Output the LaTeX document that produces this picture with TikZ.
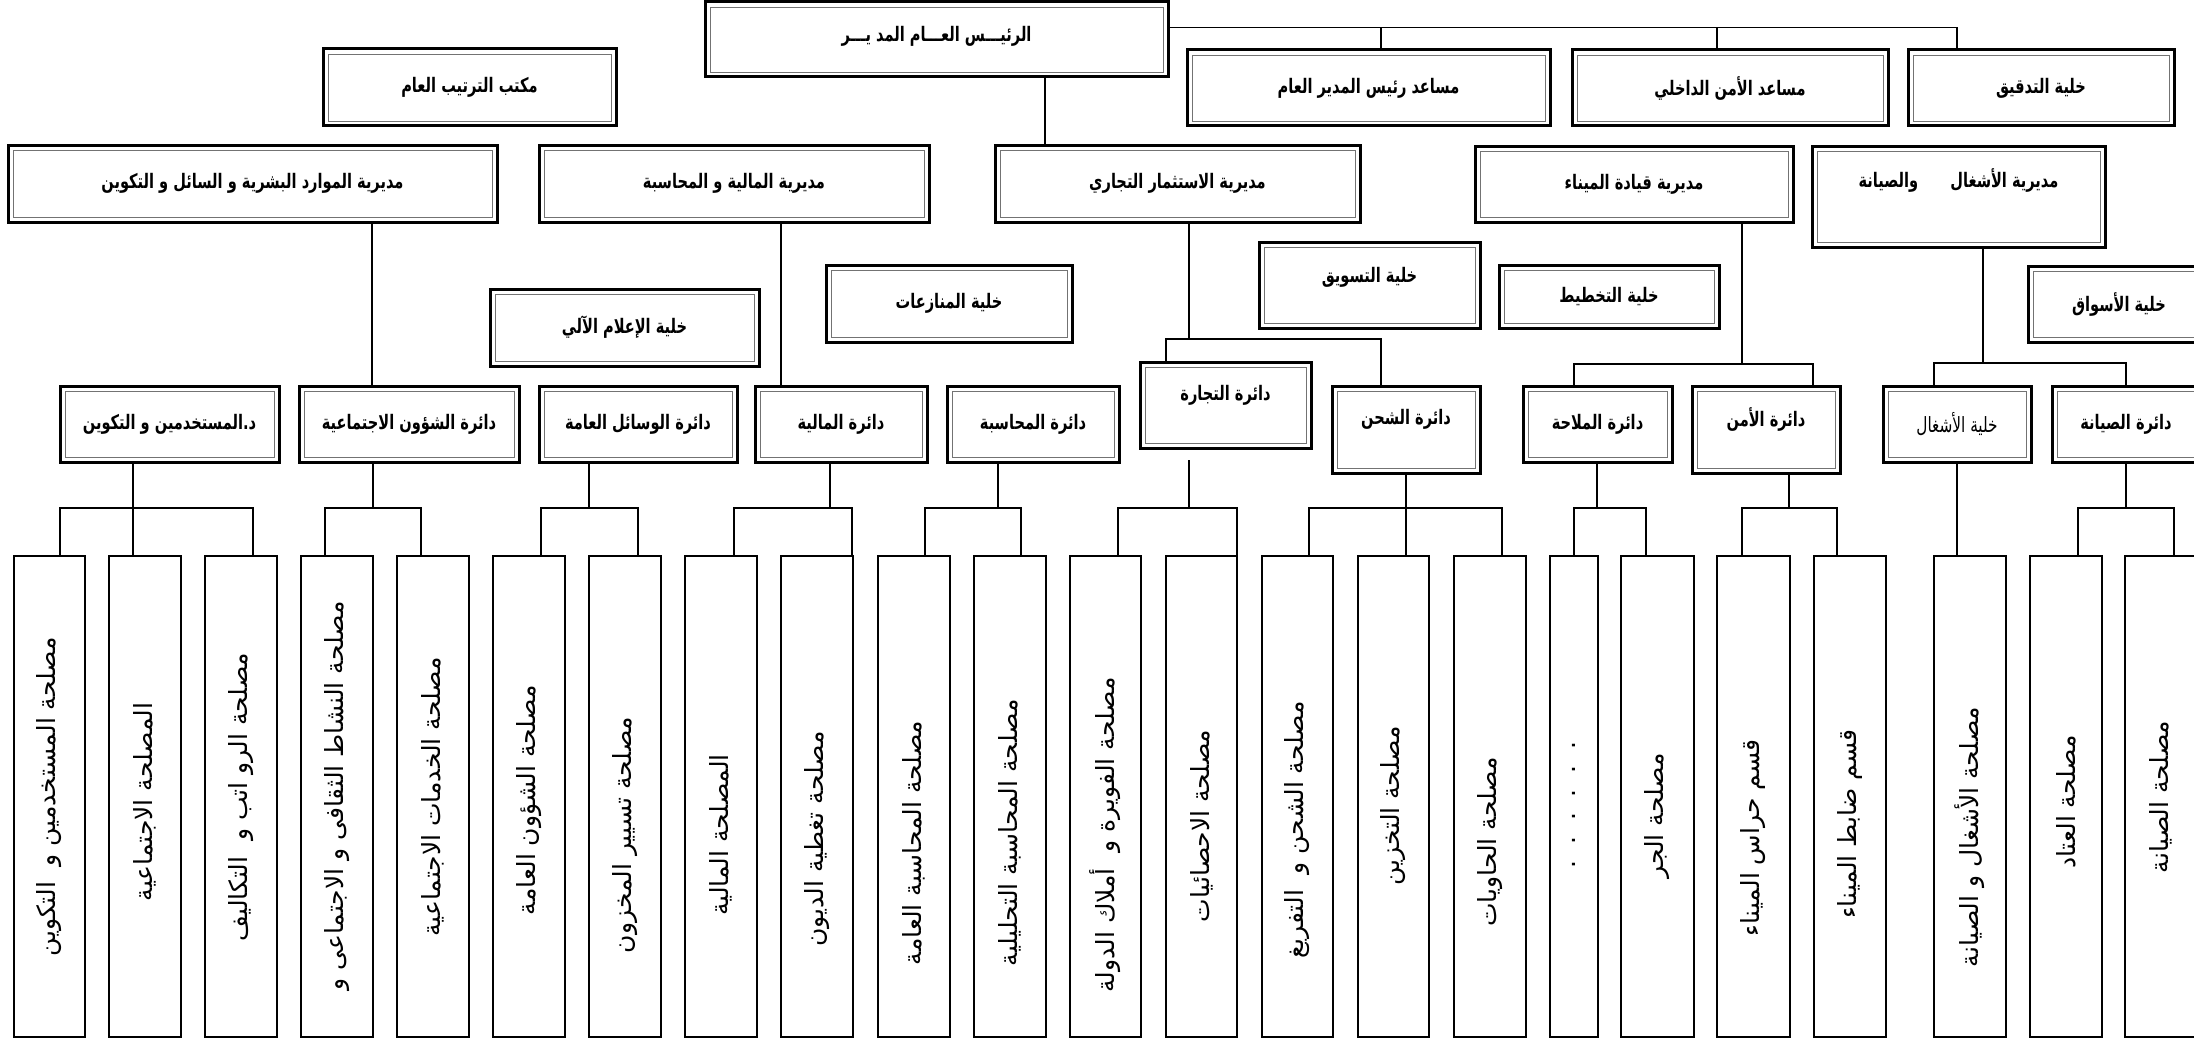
\documentclass[tikz,border=0pt]{standalone}
\usepackage{graphicx}
\usepackage{fontspec}
\newfontfamily\arb[Script=Arabic]{DejaVu Sans}
\TeXXeTstate=1
\newcommand\hfont{\arb\bfseries\fontsize{20}{23}\selectfont}
\newcommand\rfont{\arb\fontsize{21}{24}\selectfont}
\newcommand\cfont{\arb\fontsize{25}{29}\selectfont}

\tikzset{
  hdr/.style={draw, line width=3pt, fill=white, inner sep=0pt, outer sep=0pt},
  hdrin/.style={draw=black!55, line width=0.9pt},
  lbl/.style={inner sep=0pt, font=\hfont},
  lblr/.style={inner sep=0pt, font=\rfont},
  colbox/.style={draw, line width=1.4pt, fill=white, inner sep=0pt, outer sep=0pt},
  coltxt/.style={inner sep=0pt, rotate=90, font=\cfont},
  conn/.style={draw, line width=1.5pt},
}

% framed heading box: [label style]{name}{x1}{y1}{x2}{y2}{text shift}{text}
\newcommand\hdrbox[8][lbl]{%
  \node[hdr, minimum width={#5-#3}, minimum height={#6-#4}] (#2) at ({(#3+#5)/2},{(#4+#6)/2}) {};
  \draw[hdrin] ([shift={(5,5)}]#2.north west) rectangle ([shift={(-5,-5)}]#2.south east);
  \node[#1, yshift=#7] (#2-t) at (#2.center) {\scalebox{0.73}[1]{#8}};
}
% tall service column: {name}{x1}{x2}{text centre y}{text}
\newcommand\colbox[5]{%
  \node[colbox, minimum width={#3-#2}, minimum height=481] (#1) at ({(#2+#3)/2},796.5) {};
  \node[coltxt] (#1-t) at ({(#2+#3)/2},#4) {#5};
}
% department with two services under it
\newcommand\twogrp[6]{%
  \coordinate (#1-j) at (#2,508);
  \coordinate (#1-l) at (#3,508);
  \coordinate (#1-r) at (#4,508);
  \draw[conn] (#1-j |- #1.south) -- (#1-j);
  \draw[conn] (#5.north -| #1-l) -- (#1-l) -- (#1-r) -- (#1-r |- #6.north);
}

\begin{document}
\begin{tikzpicture}[x=1pt, y=-1pt]
\useasboundingbox (0,0) rectangle (2194,1038);
\clip (0,0) rectangle (2194,1038);
\fill[white] (0,0) rectangle (2194,1038);

% ---- top level
\hdrbox{ceo}{705}{2}{1168}{77}{3}{\beginR الرئيـــس العـــام المد يـــر\endR}
\hdrbox{tartib}{323}{49}{616}{126}{0}{\beginR مكتب الترتيب العام\endR}
\hdrbox{musaid}{1187}{50}{1550}{126}{0}{\beginR مساعد رئيس المدير العام\endR}
\hdrbox{amn}{1572}{50}{1888}{126}{0}{\beginR مساعد الأمن الداخلي\endR}
\hdrbox{tadqiq}{1908}{50}{2174}{126}{0}{\beginR خلية التدقيق\endR}

% ---- directorates
\hdrbox{hr}{8}{145}{497}{222}{0}{\beginR مديرية الموارد البشرية و السائل و التكوين\endR}
\hdrbox{fin}{539}{145}{929}{222}{0}{\beginR مديرية المالية و المحاسبة\endR}
\hdrbox{ist}{995}{145}{1360}{222}{0}{\beginR مديرية الاستثمار التجاري\endR}
\hdrbox{qiy}{1475}{146}{1793}{222}{0}{\beginR مديرية قيادة الميناء\endR}
\hdrbox{ashd}{1812}{146}{2105}{247}{16}{\beginR مديرية الأشغال\hspace{2.2em}والصيانة\endR}

% ---- cells
\hdrbox{ilam}{490}{289}{759}{366}{0}{\beginR خلية الإعلام الآلي\endR}
\hdrbox{munaz}{826}{265}{1072}{342}{0}{\beginR خلية المنازعات\endR}
\hdrbox{taswiq}{1259}{242}{1480}{328}{8}{\beginR خلية التسويق\endR}
\hdrbox{takhtit}{1499}{265}{1719}{328}{0}{\beginR خلية التخطيط\endR}
\hdrbox{aswaq}{2028}{266}{2210}{342}{0}{\beginR خلية الأسواق\endR}

% ---- departments
\hdrbox{mustakh}{60}{386}{279}{462}{0}{\beginR د.المستخدمين و التكوين\endR}
\hdrbox{shuun}{299}{386}{519}{462}{0}{\beginR دائرة الشؤون الاجتماعية\endR}
\hdrbox{wasail}{539}{386}{737}{462}{0}{\beginR دائرة الوسائل العامة\endR}
\hdrbox{maliya}{755}{386}{927}{462}{0}{\beginR دائرة المالية\endR}
\hdrbox{muhasaba}{947}{386}{1119}{462}{0}{\beginR دائرة المحاسبة\endR}
\hdrbox{tijara}{1140}{362}{1311}{448}{10}{\beginR دائرة التجارة\endR}
\hdrbox{shahn}{1332}{386}{1480}{473}{10}{\beginR دائرة الشحن\endR}
\hdrbox{milaha}{1523}{386}{1672}{462}{0}{\beginR دائرة الملاحة\endR}
\hdrbox{amnd}{1692}{386}{1840}{473}{10}{\beginR دائرة الأمن\endR}
\hdrbox[lblr]{khashghal}{1883}{386}{2031}{462}{0}{\beginR خلية الأشغال\endR}
\hdrbox{siyana}{2052}{386}{2200}{462}{0}{\beginR دائرة الصيانة\endR}

% ---- services
\colbox{s1}{14}{85}{797}{\beginR مصلحة المستخدمين و\ \ التكوين\endR}
\colbox{s2}{109}{181}{802}{\beginR المصلحة الاجتماعية\endR}
\colbox{s3}{205}{277}{797}{\beginR مصلحة الرو اتب و\ \ التكاليف\endR}
\colbox{s4}{301}{373}{796}{\beginR مصلحة النشاط الثقافى و الاجتماعى و\endR}
\colbox{s5}{397}{469}{797}{\beginR مصلحة الخدمات الاجتماعية\endR}
\colbox{s6}{493}{565}{800}{\beginR مصلحة الشؤون العامة\endR}
\colbox{s7}{589}{661}{835}{\beginR مصلحة تسيير المخزون\endR}
\colbox{s8}{685}{757}{835}{\beginR المصلحة المالية\endR}
\colbox{s9}{781}{853}{839}{\beginR مصلحة تغطية الديون\endR}
\colbox{s10}{878}{950}{843}{\beginR مصلحة المحاسبة العامة\endR}
\colbox{s11}{974}{1046}{833}{\beginR مصلحة المحاسبة التحليلية\endR}
\colbox{s12}{1070}{1141}{835}{\beginR مصلحة الفويرة و\ \ أملاك الدولة\endR}
\colbox{s13}{1166}{1237}{826}{\beginR مصلحة الاحصائيات\endR}
\colbox{s14}{1262}{1333}{830}{\beginR مصلحة الشحن و\ \ التفريغ\endR}
\colbox{s15}{1358}{1429}{806}{\beginR مصلحة التخزين\endR}
\colbox{s16}{1454}{1526}{842}{\beginR مصلحة الحاويات\endR}
\colbox{s17}{1550}{1598}{805}{.\ \ .\ \ .\ \ .\ \ .\ \ .}
\colbox{s18}{1621}{1694}{816}{\beginR مصلحة الجر\endR}
\colbox{s19}{1717}{1790}{838}{\beginR قسم حراس الميناء\endR}
\colbox{s20}{1814}{1886}{824}{\beginR قسم ضابط الميناء\endR}
\colbox{s21}{1934}{2006}{837}{\beginR مصلحة الأشغال و الصيانة\endR}
\colbox{s22}{2030}{2102}{802}{\beginR مصلحة العتاد\endR}
\colbox{s23}{2125}{2197}{797}{\beginR مصلحة الصيانة\endR}

% ---- connectors: general manager
\coordinate (bus-a) at (1381,27.7);
\coordinate (bus-b) at (1717,27.7);
\coordinate (bus-r) at (1957,27.7);
\draw[conn] (ceo.east |- bus-r) -- (bus-r) -- (bus-r |- tadqiq.north);
\draw[conn] (bus-a) -- (bus-a |- musaid.north);
\draw[conn] (bus-b) -- (bus-b |- amn.north);
\coordinate (c1) at (1045,0);
\draw[conn] (c1 |- ceo.south) -- (c1 |- ist.north);

% ---- connectors: directorates to departments
\coordinate (c2) at (372,0);
\draw[conn] (c2 |- hr.south) -- (c2 |- shuun.north);
\coordinate (c3) at (781,0);
\draw[conn] (c3 |- fin.south) -- (c3 |- maliya.north);

\coordinate (c4) at (1189,339);
\coordinate (c4l) at (1166,339);
\coordinate (c4r) at (1381,339);
\draw[conn] (c4 |- ist.south) -- (c4);
\draw[conn] (c4l |- tijara.north) -- (c4l) -- (c4r) -- (c4r |- shahn.north);

\coordinate (c5) at (1742,364);
\coordinate (c5l) at (1574,364);
\coordinate (c5r) at (1813,364);
\draw[conn] (c5 |- qiy.south) -- (c5);
\draw[conn] (c5l |- milaha.north) -- (c5l) -- (c5r) -- (c5r |- amnd.north);

\coordinate (c6) at (1983,363);
\coordinate (c6l) at (1934,363);
\coordinate (c6r) at (2126,363);
\draw[conn] (c6 |- ashd.south) -- (c6);
\draw[conn] (c6l |- khashghal.north) -- (c6l) -- (c6r) -- (c6r |- siyana.north);

% ---- connectors: departments to services
\coordinate (g1) at (133,508);
\coordinate (g1l) at (60,508);
\coordinate (g1r) at (253,508);
\draw[conn] (g1 |- mustakh.south) -- (g1 |- s2.north);
\draw[conn] (s1.north -| g1l) -- (g1l) -- (g1r) -- (g1r |- s3.north);

\twogrp{shuun}{373}{325}{421}{s4}{s5}
\twogrp{wasail}{589}{541}{638}{s6}{s7}
\twogrp{maliya}{830}{734}{852}{s8}{s9}
\twogrp{muhasaba}{998}{925}{1021}{s10}{s11}

\coordinate (g6t) at (1189,460);
\coordinate (g6) at (1189,508);
\coordinate (g6l) at (1118,508);
\coordinate (g6r) at (1237,508);
\draw[conn] (g6t) -- (g6);
\draw[conn] (s12.north -| g6l) -- (g6l) -- (g6r) -- (g6r |- s13.north);

\coordinate (g7) at (1406,508);
\coordinate (g7l) at (1309,508);
\coordinate (g7r) at (1502,508);
\draw[conn] (g7 |- shahn.south) -- (g7 |- s15.north);
\draw[conn] (s14.north -| g7l) -- (g7l) -- (g7r) -- (g7r |- s16.north);

\twogrp{milaha}{1597}{1574}{1646}{s17}{s18}
\twogrp{amnd}{1789}{1742}{1837}{s19}{s20}

\coordinate (g10) at (1957,0);
\draw[conn] (g10 |- khashghal.south) -- (g10 |- s21.north);

\twogrp{siyana}{2126}{2078}{2174}{s22}{s23}
\end{tikzpicture}
\end{document}
